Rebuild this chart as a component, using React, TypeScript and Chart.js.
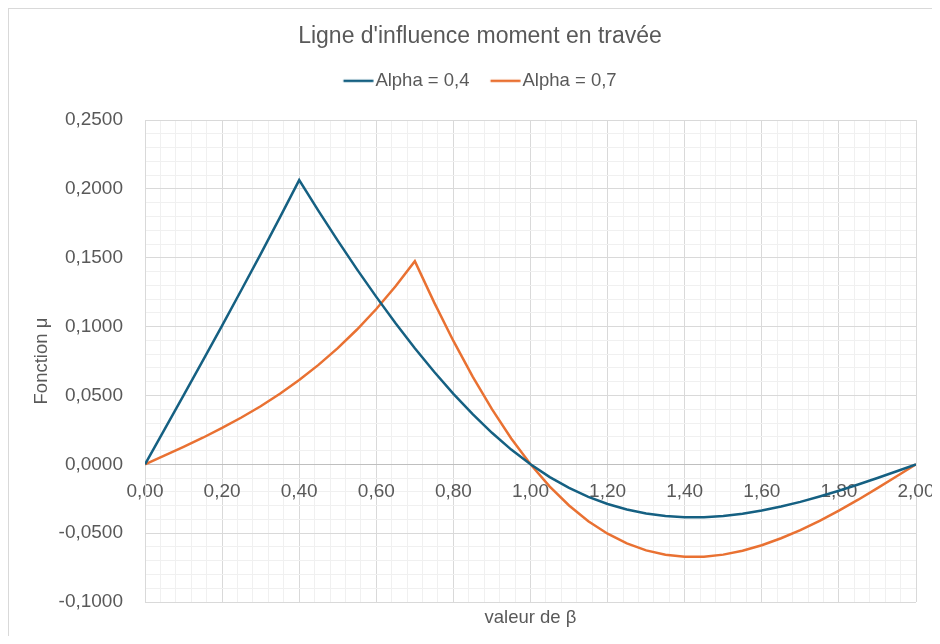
import React, { useEffect, useRef } from "react";
import { Chart, registerables } from "chart.js";

Chart.register(...registerables);

const CHART_TITLE = "Ligne d'influence moment en travée";
const X_TITLE = "valeur de β";
const Y_TITLE = "Fonction μ";
const SERIES_NAMES = ["Alpha = 0,4", "Alpha = 0,7"];
const SERIES_COLORS = ["#156082", "#E97132"];

const BETA = [
  0, 0.05, 0.1, 0.15, 0.2, 0.25, 0.3, 0.35, 0.4, 0.45, 0.5, 0.55, 0.6, 0.65, 0.7, 0.75, 0.8, 0.85, 0.9, 0.95, 1.0,
  1.05, 1.1, 1.15, 1.2, 1.25, 1.3, 1.35, 1.4, 1.45, 1.5, 1.55, 1.6, 1.65, 1.7, 1.75, 1.8, 1.85, 1.9, 1.95, 2.0,
];

const ALPHA_04 = [
  0, 0.025, 0.0501, 0.0753, 0.1008, 0.1266, 0.1527, 0.1793, 0.2064, 0.1841, 0.1625, 0.1416, 0.1216, 0.1025, 0.0843,
  0.0672, 0.0512, 0.0364, 0.0229, 0.0107, 0,
  -0.0093, -0.0171, -0.0236, -0.0288, -0.0328, -0.0357, -0.0375, -0.0384, -0.0384, -0.0375, -0.0359, -0.0336,
  -0.0307, -0.0273, -0.0234, -0.0192, -0.0147, -0.0099, -0.005, 0,
];

const ALPHA_07 = [
  0, 0.0063, 0.0127, 0.0193, 0.0264, 0.034, 0.0422, 0.0513, 0.0612, 0.0722, 0.0844, 0.0979, 0.1128, 0.1293, 0.1475,
  0.1176, 0.0896, 0.0637, 0.0401, 0.0188, 0,
  -0.0162, -0.0299, -0.0413, -0.0504, -0.0574, -0.0625, -0.0657, -0.0672, -0.0671, -0.0656, -0.0628, -0.0588,
  -0.0537, -0.0478, -0.041, -0.0336, -0.0257, -0.0173, -0.0087, 0,
];

const X_MIN = 0;
const X_MAX = 2;
const X_MAJOR = 0.2;
const X_MINOR = 0.04;
const Y_MIN = -0.1;
const Y_MAX = 0.25;
const Y_MAJOR = 0.05;
const Y_MINOR = 0.01;

const FONT = '"Liberation Sans", Arial, sans-serif';
const TEXT = "#595959";
const MAJOR_GRID = "#d9d9d9";
const MINOR_GRID = "#f0f0f0";
const ZERO_LINE = "#bfbfbf";

const LEGEND_FONT = 18.5;
const LEGEND_LINE = 30;
const LEGEND_TEXT_OFFSET = 32;
const LEGEND_BOX = LEGEND_TEXT_OFFSET - LEGEND_FONT / 2;

const isMult = (v: number, step: number) => Math.abs(v / step - Math.round(v / step)) < 1e-6;
const fmt = (v: number, d: number) => (Math.abs(v) < 1e-9 ? 0 : v).toFixed(d).replace(".", ",");

function legendSwatch(color: string): HTMLCanvasElement {
  const c = document.createElement("canvas");
  const w = 80;
  const h = 6;
  c.width = w;
  c.height = h;
  const ctx = c.getContext("2d")!;
  const start = w / 2 - LEGEND_BOX / 2;
  ctx.strokeStyle = color;
  ctx.lineWidth = 2.5;
  ctx.beginPath();
  ctx.moveTo(start, h / 2);
  ctx.lineTo(start + LEGEND_LINE, h / 2);
  ctx.stroke();
  return c;
}

export default function App() {
  const ref = useRef<HTMLCanvasElement>(null);

  useEffect(() => {
    const canvas = ref.current;
    if (!canvas) return;
    const chart = new Chart(canvas, {
      type: "line",
      data: {
        datasets: [
          {
            label: SERIES_NAMES[0],
            data: BETA.map((b, i) => ({ x: b, y: ALPHA_04[i] })),
            borderColor: SERIES_COLORS[0],
            backgroundColor: SERIES_COLORS[0],
            borderWidth: 2.5,
            pointRadius: 0,
            pointStyle: legendSwatch(SERIES_COLORS[0]),
            tension: 0,
            fill: false,
            xAxisID: "x",
            yAxisID: "y",
          },
          {
            label: SERIES_NAMES[1],
            data: BETA.map((b, i) => ({ x: b, y: ALPHA_07[i] })),
            borderColor: SERIES_COLORS[1],
            backgroundColor: SERIES_COLORS[1],
            borderWidth: 2.5,
            pointRadius: 0,
            pointStyle: legendSwatch(SERIES_COLORS[1]),
            tension: 0,
            fill: false,
            xAxisID: "x",
            yAxisID: "y",
          },
        ],
      },
      options: {
        responsive: false,
        animation: false,
        devicePixelRatio: 1,
        layout: { padding: 0 },
        plugins: {
          title: {
            display: true,
            text: CHART_TITLE,
            color: TEXT,
            font: { family: FONT, size: 23, weight: "normal" },
            padding: { top: 14, bottom: 0 },
          },
          legend: {
            display: true,
            position: "top",
            labels: {
              color: TEXT,
              font: { family: FONT, size: LEGEND_FONT },
              usePointStyle: true,
              pointStyleWidth: LEGEND_BOX,
              boxWidth: LEGEND_BOX,
              padding: 21,
            },
          },
          tooltip: { enabled: false },
        },
        scales: {
          x: {
            type: "linear",
            position: "bottom",
            min: X_MIN,
            max: X_MAX,
            ticks: { display: false, stepSize: X_MINOR },
            grid: {
              drawTicks: false,
              lineWidth: 1,
              color: (ctx: any) => (isMult(ctx.tick.value, X_MAJOR) ? MAJOR_GRID : MINOR_GRID),
            },
            border: { display: false },
            title: {
              display: true,
              text: X_TITLE,
              color: TEXT,
              font: { family: FONT, size: 18.5 },
              padding: { top: 0, bottom: 7 },
            },
            afterFit: (s: any) => {
              s.height = 34;
            },
          },
          xLabels: {
            type: "linear",
            axis: "x",
            position: { y: 0 },
            min: X_MIN,
            max: X_MAX,
            ticks: {
              stepSize: X_MAJOR,
              autoSkip: false,
              maxRotation: 0,
              color: TEXT,
              font: { family: FONT, size: 19 },
              padding: 16,
              callback: (v: any) => fmt(Number(v), 2),
            },
            grid: { display: false, drawTicks: false },
            border: { display: false },
          },
          xTop: {
            type: "linear",
            axis: "x",
            position: "top",
            min: 0,
            max: 1,
            ticks: { display: false },
            grid: { display: false, drawTicks: false },
            border: { display: false },
            afterFit: (s: any) => {
              s.height = 20;
            },
          },
          y: {
            type: "linear",
            position: "left",
            min: Y_MIN,
            max: Y_MAX,
            ticks: {
              stepSize: Y_MINOR,
              autoSkip: false,
              color: TEXT,
              font: { family: FONT, size: 19 },
              padding: 22,
              callback: (v: any) => (isMult(Number(v), Y_MAJOR) ? fmt(Number(v), 4) : ""),
            },
            grid: {
              drawTicks: false,
              lineWidth: 1,
              color: (ctx: any) =>
                Math.abs(ctx.tick.value) < 1e-9
                  ? ZERO_LINE
                  : isMult(ctx.tick.value, Y_MAJOR)
                  ? MAJOR_GRID
                  : MINOR_GRID,
            },
            border: { display: true, color: MAJOR_GRID },
            title: {
              display: true,
              text: Y_TITLE,
              color: TEXT,
              font: { family: FONT, size: 18.5 },
              padding: { top: 22, bottom: 0 },
            },
            afterFit: (s: any) => {
              s.width = 136;
            },
          },
          yRight: {
            type: "linear",
            axis: "y",
            position: "right",
            min: 0,
            max: 1,
            ticks: { display: false },
            grid: { display: false, drawTicks: false },
            border: { display: false },
            afterFit: (s: any) => {
              s.width = 35;
            },
          },
        },
      } as any,
    });
    return () => chart.destroy();
  }, []);

  return (
    <div
      style={{
        width: 931,
        height: 627,
        overflow: "hidden",
        borderTop: "1px solid #d9d9d9",
        borderLeft: "1px solid #d9d9d9",
        background: "#ffffff",
      }}
    >
      <canvas ref={ref} width={942} height={627} style={{ display: "block", width: 942, height: 627 }} />
    </div>
  );
}
